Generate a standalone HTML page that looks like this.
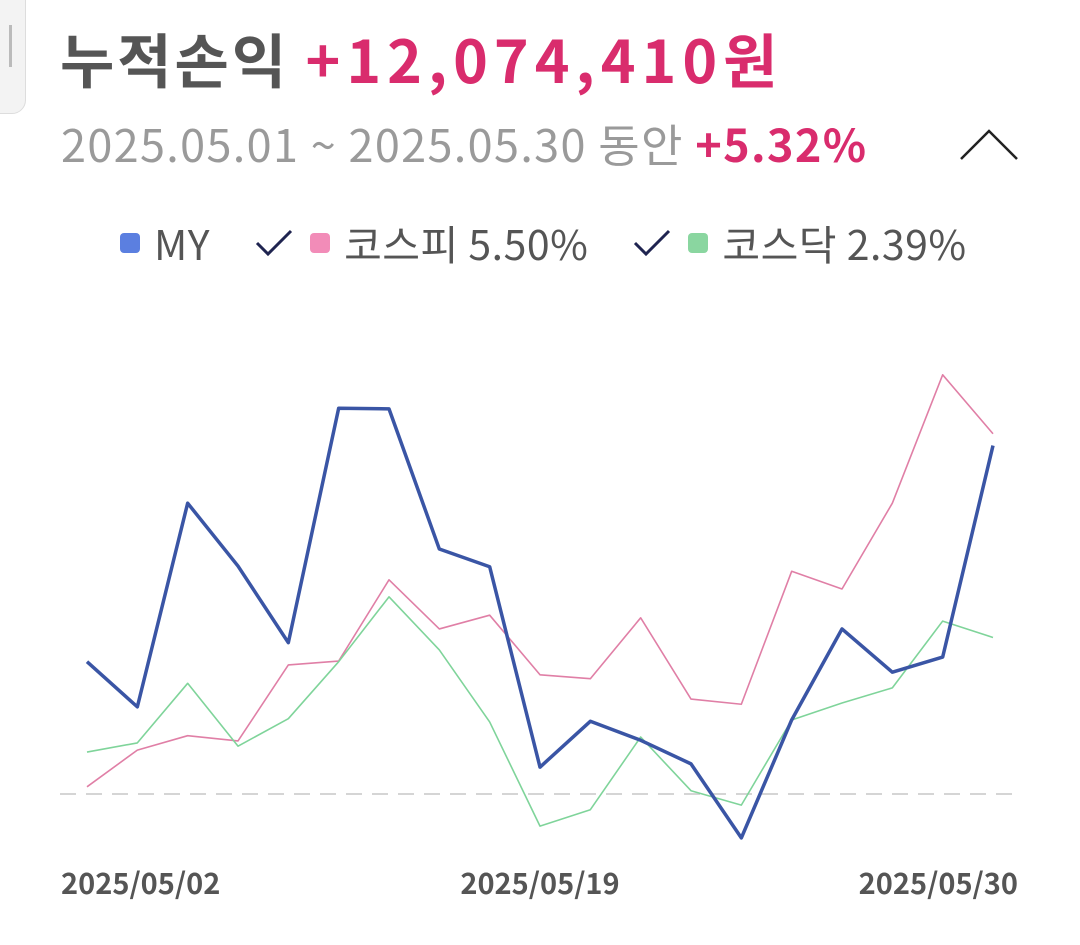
<!DOCTYPE html>
<html><head><meta charset="utf-8"><style>
body{margin:0;width:1080px;height:945px;background:#fff;overflow:hidden;font-family:"Noto Sans CJK KR","Liberation Sans",sans-serif;position:relative}
.t{position:absolute;white-space:nowrap;line-height:1}
</style></head><body>
<div style="position:absolute;left:-10px;top:-10px;width:34px;height:122px;background:#f3f3f3;border:1px solid #ddd;border-radius:0 0 14px 0"></div>
<div style="position:absolute;left:9px;top:25px;width:3px;height:42px;background:#bbb"></div>
<div class="t" style="left:60px;top:28px;font-size:59px;font-weight:bold;color:#555;letter-spacing:3px">누적손익 <span style="color:#d92c6d;letter-spacing:6px">+12,074,410원</span></div>
<div class="t" style="left:61px;top:120px;font-size:45px;color:#9a9a9a;letter-spacing:1.35px">2025.05.01 ~ 2025.05.30 동안 <span style="color:#d92c6d;font-weight:bold">+5.32%</span></div>
<svg style="position:absolute;left:958px;top:126px" width="64" height="38"><polyline points="3,33 31,5 59,33" fill="none" stroke="#222" stroke-width="2.5"/></svg>
<div class="t" style="left:120px;top:222px;font-size:41px;color:#555;display:flex;align-items:center;letter-spacing:0.5px">
<span style="display:flex;align-items:center"><span style="display:inline-block;width:20px;height:20px;border-radius:4px;background:#5b7fe0;margin-right:14px"></span>MY</span>
<svg width="40" height="30" style="margin-left:44px"><polyline points="3,15 14,26 37,3" fill="none" stroke="#1f2450" stroke-width="3"/></svg>
<span style="display:flex;align-items:center;margin-left:16px"><span style="display:inline-block;width:20px;height:20px;border-radius:4px;background:#f28cb8;margin-right:14px"></span>코스피 5.50%</span>
<svg width="40" height="30" style="margin-left:44px"><polyline points="3,15 14,26 37,3" fill="none" stroke="#1f2450" stroke-width="3"/></svg>
<span style="display:flex;align-items:center;margin-left:16px"><span style="display:inline-block;width:20px;height:20px;border-radius:4px;background:#8ad6a0;margin-right:14px"></span>코스닥 2.39%</span>
</div>
<svg id="chart" style="position:absolute;left:0;top:0" width="1080" height="945"></svg>
<script>
const dateLabels=["2025/05/02","2025/05/19","2025/05/30"];
const dateLabelIdx=[0,9,18];
const myValues=[2.02,1.33,4.44,3.48,2.31,5.89,5.88,3.74,3.47,0.41,1.11,0.82,0.46,-0.67,1.13,2.52,1.86,2.09,5.32];
const kospiValues=[0.11,0.67,0.89,0.81,1.97,2.03,3.27,2.52,2.73,1.82,1.76,2.69,1.45,1.37,3.40,3.13,4.44,6.40,5.50];
const kosdaqValues=[0.64,0.78,1.69,0.73,1.15,2.02,3.01,2.20,1.10,-0.49,-0.24,0.87,0.05,-0.17,1.13,1.39,1.62,2.64,2.39];
const svg=document.getElementById('chart');
const NS='http://www.w3.org/2000/svg';
const x0=87,x1=993,y0=794,pxPer=65.5;
const X=i=>x0+(x1-x0)*i/(myValues.length-1);
const Y=v=>y0-v*pxPer;
const base=document.createElementNS(NS,'line');


base.setAttribute('x1',60);base.setAttribute('x2',1020);base.setAttribute('y1',Y(0));base.setAttribute('y2',Y(0));
base.setAttribute('stroke','#d5d5d5');base.setAttribute('stroke-width','2');base.setAttribute('stroke-dasharray','16 10');
svg.appendChild(base);
function line(vals,color,w,name){
  const p=document.createElementNS(NS,'polyline');
  
  
  p.setAttribute('points',vals.map((v,i)=>X(i)+','+Y(v)).join(' '));
  p.setAttribute('fill','none');p.setAttribute('stroke',color);p.setAttribute('stroke-width',w);p.setAttribute('stroke-linejoin','round');
  svg.appendChild(p);
}
line(kospiValues,'#e07fa6',1.6,'kospi-line');
line(kosdaqValues,'#7fd49a',1.6,'kosdaq-line');
line(myValues,'#3a55a5',3.5,'my-line');
dateLabels.forEach((d,k)=>{
  const t=document.createElementNS(NS,'text');
  
  
  const i=dateLabelIdx[k];
  let anchor='middle',x=X(i);
  if(k===0){anchor='start';x=61;} if(k===dateLabels.length-1){anchor='end';x=1018;}
  t.setAttribute('x',x);t.setAttribute('y',894);t.setAttribute('text-anchor',anchor);
  t.setAttribute('font-size','29');t.setAttribute('font-weight','bold');t.setAttribute('fill','#555');
  t.setAttribute('font-family','Noto Sans CJK KR, Liberation Sans, sans-serif');
  t.textContent=d;svg.appendChild(t);
});
</script>
</body></html>
